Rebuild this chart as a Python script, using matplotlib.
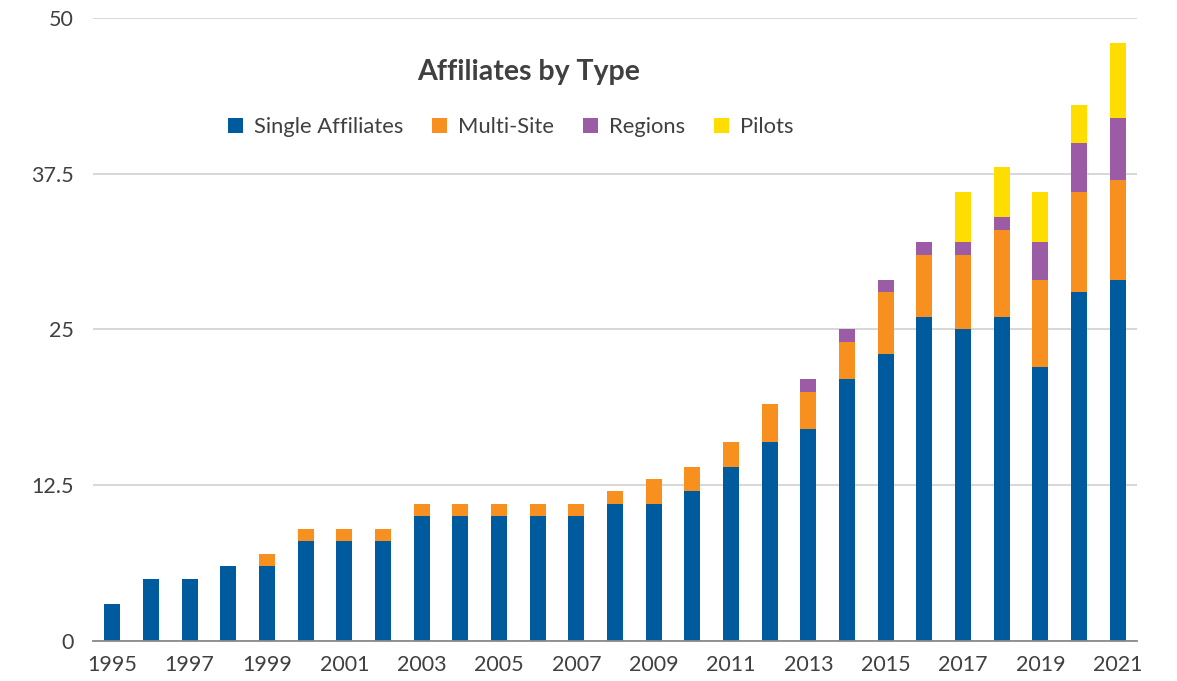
import matplotlib
matplotlib.use('Agg')
import matplotlib.pyplot as plt
import numpy as np

plt.rcParams['font.family'] = ['Lato', 'DejaVu Sans']

# data
years = list(range(1995, 2022))
single = [3, 5, 5, 6, 6, 8, 8, 8, 10, 10, 10, 10, 10, 11, 11, 12, 14, 16, 17, 21, 23, 26, 25, 26, 22, 28, 29]
multi = [0, 0, 0, 0, 1, 1, 1, 1, 1, 1, 1, 1, 1, 1, 2, 2, 2, 3, 3, 3, 5, 5, 6, 7, 7, 8, 8]
regions = [0, 0, 0, 0, 0, 0, 0, 0, 0, 0, 0, 0, 0, 0, 0, 0, 0, 0, 1, 1, 1, 1, 1, 1, 3, 4, 5]
pilots = [0, 0, 0, 0, 0, 0, 0, 0, 0, 0, 0, 0, 0, 0, 0, 0, 0, 0, 0, 0, 0, 0, 4, 4, 4, 3, 6]

series = [single, multi, regions, pilots]
names = ['Single Affiliates', 'Multi-Site', 'Regions', 'Pilots']
colors = ['#005A9E', '#F7901E', '#9B5BA5', '#FFDD00']
text_col = '#404040'

fig = plt.figure(figsize=(11.77, 6.81), dpi=100)
ax = fig.add_axes([0.079, 0.0587, 0.887, 0.915])

x = np.arange(len(years))
bottom = np.zeros(len(years))
handles = []
for vals, name, col in zip(series, names, colors):
    b = ax.bar(x, vals, 0.41, bottom=bottom, color=col, label=name, zorder=3)
    handles.append(b)
    bottom += np.array(vals)

ax.set_xlim(-0.5, 26.5)
ax.set_ylim(0, 50)
ax.set_yticks([0, 12.5, 25, 37.5, 50])
ax.set_yticklabels(['0', '12.5', '25', '37.5', '50'])
ax.set_xticks(x[::2])
ax.set_xticklabels([str(y) for y in years[::2]])
ax.tick_params(axis='both', length=0, labelsize=15.5, colors=text_col)
ax.tick_params(axis='y', pad=14)
ax.tick_params(axis='x', pad=10)

ax.grid(axis='y', color='#d4d4d4', linewidth=1.3, zorder=0)
for s in ['top', 'right', 'left']:
    ax.spines[s].set_visible(False)
ax.spines['bottom'].set_color('#8a8a8a')
ax.spines['bottom'].set_linewidth(1.3)
ax.spines['bottom'].set_zorder(4)

fig.text(0.449, 0.894, 'Affiliates by Type', ha='center', va='center',
         fontsize=20.5, fontweight='bold', color=text_col)

leg = fig.legend(handles=handles, labels=names, loc='center', ncol=4,
                 bbox_to_anchor=(0.434, 0.813), frameon=False, fontsize=15.8,
                 handlelength=0.7, handleheight=0.7, handletextpad=0.5,
                 columnspacing=1.3)
for t in leg.get_texts():
    t.set_color(text_col)

fig.savefig('out.png', dpi=100)
